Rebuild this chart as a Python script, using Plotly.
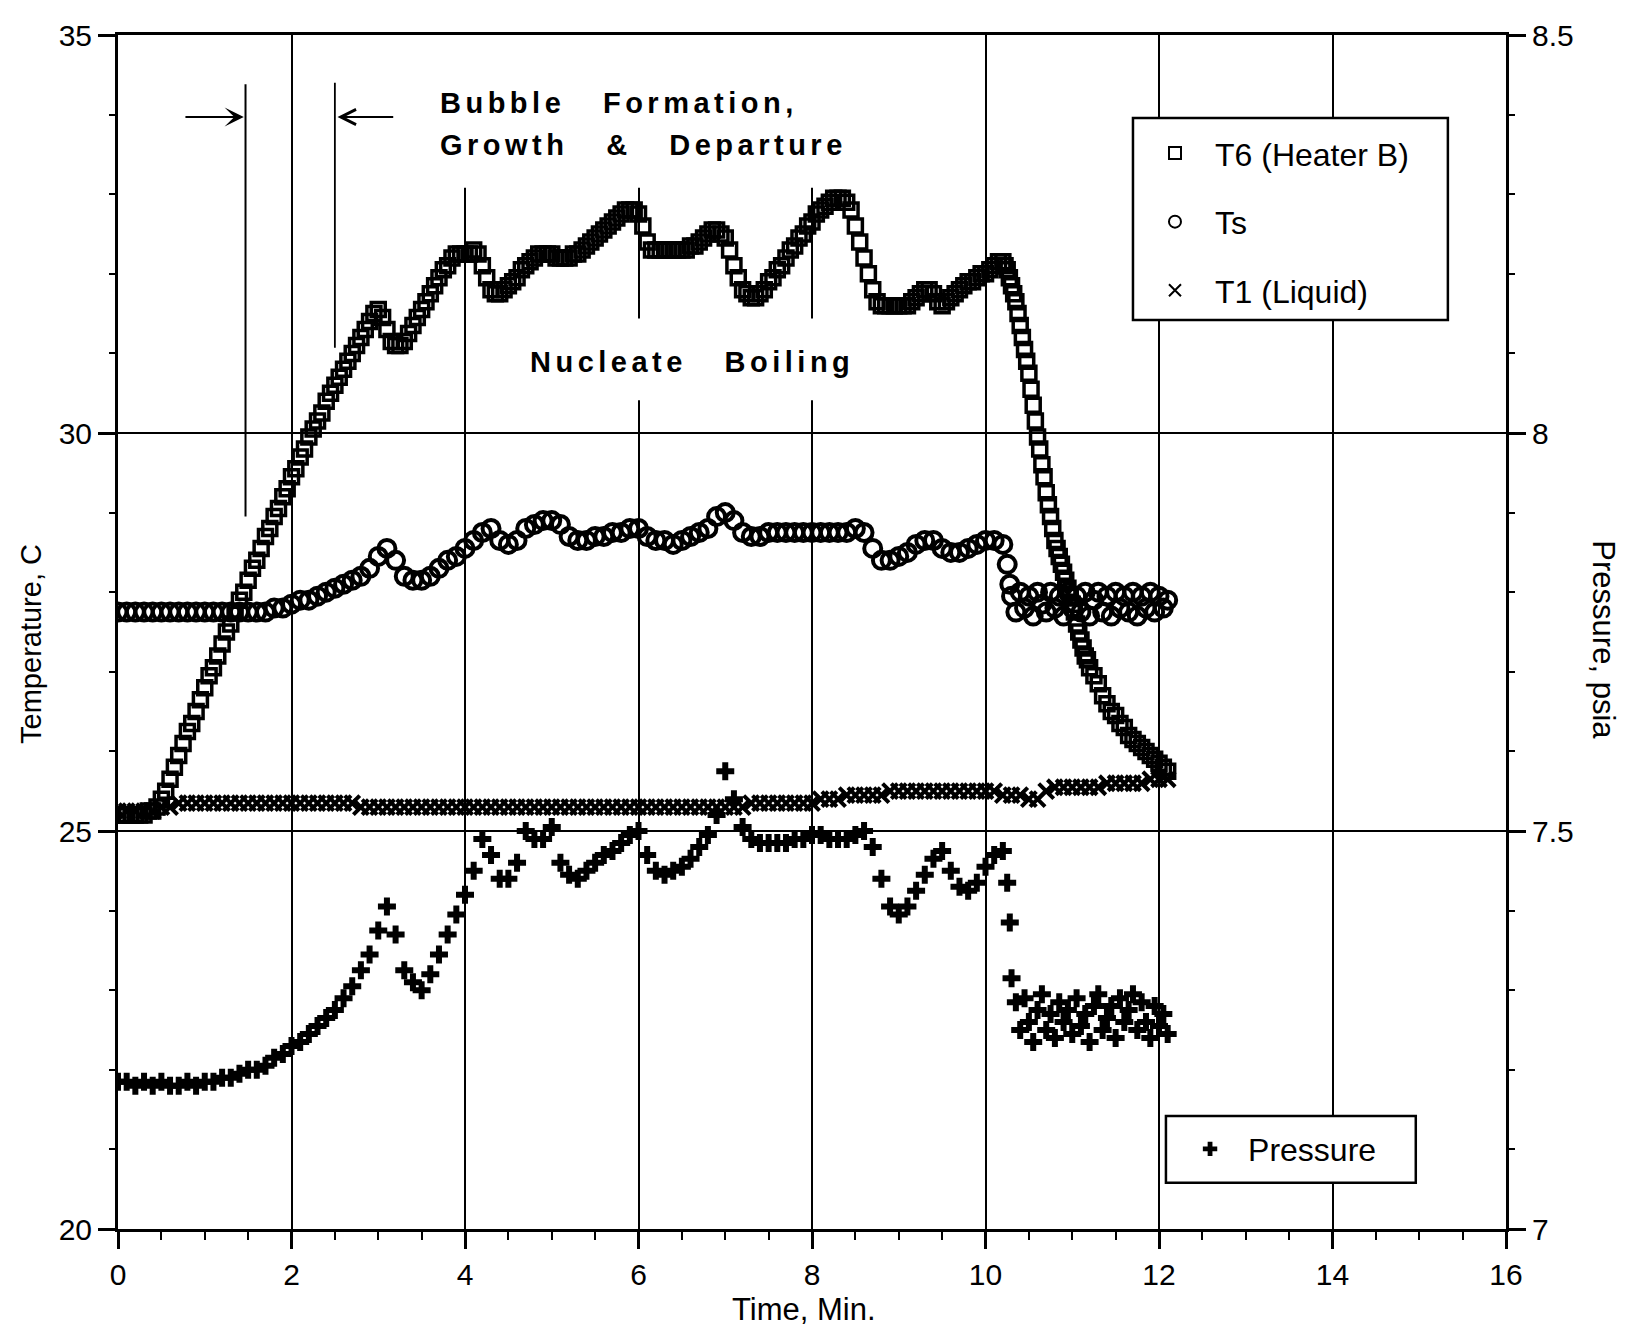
import plotly.graph_objects as go

# ---------------- data ----------------
# T6 (Heater B) – square markers
t6_time = [
    0.0, 0.05, 0.1, 0.15, 0.2, 0.25, 0.3, 0.35, 0.4, 0.45,
    0.5, 0.55, 0.6, 0.65, 0.7, 0.75, 0.8, 0.85, 0.9, 0.95,
    1.0, 1.05, 1.1, 1.15, 1.2, 1.25, 1.3, 1.35, 1.4, 1.45,
    1.5, 1.55, 1.6, 1.65, 1.7, 1.75, 1.8, 1.85, 1.9, 1.95,
    2.0, 2.05, 2.1, 2.15, 2.2, 2.25, 2.3, 2.35, 2.4, 2.45,
    2.5, 2.55, 2.6, 2.65, 2.7, 2.75, 2.8, 2.85, 2.9, 2.95,
    3.0, 3.05, 3.1, 3.15, 3.2, 3.25, 3.3, 3.35, 3.4, 3.45,
    3.5, 3.55, 3.6, 3.65, 3.7, 3.75, 3.8, 3.85, 3.9, 3.95,
    4.0, 4.05, 4.1, 4.15, 4.2, 4.25, 4.3, 4.35, 4.4, 4.45,
    4.5, 4.55, 4.6, 4.65, 4.7, 4.75, 4.8, 4.85, 4.9, 4.95,
    5.0, 5.05, 5.1, 5.15, 5.2, 5.25, 5.3, 5.35, 5.4, 5.45,
    5.5, 5.55, 5.6, 5.65, 5.7, 5.75, 5.8, 5.85, 5.9, 5.95,
    6.0, 6.05, 6.1, 6.15, 6.2, 6.25, 6.3, 6.35, 6.4, 6.45,
    6.5, 6.55, 6.6, 6.65, 6.7, 6.75, 6.8, 6.85, 6.9, 6.95,
    7.0, 7.05, 7.1, 7.15, 7.2, 7.25, 7.3, 7.35, 7.4, 7.45,
    7.5, 7.55, 7.6, 7.65, 7.7, 7.75, 7.8, 7.85, 7.9, 7.95,
    8.0, 8.05, 8.1, 8.15, 8.2, 8.25, 8.3, 8.35, 8.4, 8.45,
    8.5, 8.55, 8.6, 8.65, 8.7, 8.75, 8.8, 8.85, 8.9, 8.95,
    9.0, 9.05, 9.1, 9.15, 9.2, 9.25, 9.3, 9.35, 9.4, 9.45,
    9.5, 9.55, 9.6, 9.65, 9.7, 9.75, 9.8, 9.85, 9.9, 9.95,
    10.0, 10.05, 10.1, 10.15, 10.2,
    10.225, 10.25, 10.275, 10.3, 10.325, 10.35, 10.375, 10.4, 10.425, 10.45,
    10.475, 10.5, 10.525, 10.55, 10.575, 10.6, 10.625, 10.65, 10.675, 10.7,
    10.725, 10.75, 10.775, 10.8, 10.825, 10.85, 10.875, 10.9, 10.925, 10.95,
    10.975, 11.0, 11.025, 11.05, 11.075, 11.1, 11.125, 11.15, 11.175, 11.2,
    11.25, 11.3, 11.35, 11.4, 11.45, 11.5, 11.55, 11.6, 11.65, 11.7,
    11.75, 11.8, 11.85, 11.9, 11.95, 12.0, 12.05, 12.1,
]
t6_temp = [
    25.2, 25.2, 25.2, 25.2, 25.2, 25.2, 25.2, 25.25, 25.25, 25.3,
    25.4, 25.5, 25.65, 25.8, 25.95, 26.1, 26.25, 26.35, 26.5, 26.65,
    26.8, 26.95, 27.05, 27.2, 27.35, 27.5, 27.6, 27.75, 27.9, 28.0,
    28.15, 28.3, 28.4, 28.55, 28.7, 28.8, 28.95, 29.05, 29.2, 29.3,
    29.45, 29.55, 29.7, 29.8, 29.95, 30.05, 30.15, 30.25, 30.4, 30.5,
    30.6, 30.7, 30.8, 30.9, 31.0, 31.1, 31.2, 31.3, 31.4, 31.5,
    31.55, 31.45, 31.3, 31.15, 31.1, 31.1, 31.15, 31.25, 31.35, 31.45,
    31.55, 31.65, 31.75, 31.85, 31.95, 32.05, 32.1, 32.2, 32.25, 32.25,
    32.25, 32.25, 32.3, 32.25, 32.1, 31.95, 31.8, 31.75, 31.75, 31.8,
    31.85, 31.9, 31.95, 32.05, 32.1, 32.15, 32.2, 32.25, 32.25, 32.25,
    32.25, 32.2, 32.2, 32.2, 32.2, 32.25, 32.25, 32.3, 32.35, 32.4,
    32.45, 32.5, 32.55, 32.6, 32.65, 32.7, 32.75, 32.8, 32.8, 32.8,
    32.75, 32.6, 32.4, 32.3, 32.3, 32.3, 32.3, 32.3, 32.3, 32.3,
    32.3, 32.3, 32.35, 32.35, 32.4, 32.45, 32.5, 32.55, 32.55, 32.5,
    32.45, 32.3, 32.1, 31.95, 31.8, 31.75, 31.7, 31.7, 31.75, 31.8,
    31.9, 31.95, 32.05, 32.1, 32.2, 32.3, 32.35, 32.45, 32.5, 32.6,
    32.65, 32.75, 32.8, 32.85, 32.9, 32.95, 32.95, 32.95, 32.9, 32.8,
    32.6, 32.4, 32.2, 32.0, 31.8, 31.65, 31.6, 31.6, 31.6, 31.6,
    31.6, 31.6, 31.6, 31.65, 31.7, 31.75, 31.8, 31.8, 31.75, 31.65,
    31.6, 31.65, 31.7, 31.75, 31.8, 31.85, 31.9, 31.9, 31.95, 32.0,
    32.0, 32.05, 32.1, 32.15, 32.15,
    32.1, 32.05, 31.95, 31.85, 31.75, 31.65, 31.5, 31.35, 31.2, 31.05,
    30.9, 30.75, 30.55, 30.35, 30.15, 29.95, 29.8, 29.6, 29.45, 29.25,
    29.1, 28.95, 28.8, 28.65, 28.55, 28.45, 28.35, 28.25, 28.15, 28.05,
    27.95, 27.85, 27.75, 27.6, 27.5, 27.4, 27.3, 27.2, 27.15, 27.05,
    26.95, 26.85, 26.7, 26.6, 26.5, 26.45, 26.35, 26.3, 26.2, 26.15,
    26.1, 26.05, 26.0, 25.95, 25.9, 25.85, 25.8, 25.75,
]

# sampling grid 0.0 - 10.2 min (0.1 min)
grid_time = [
    0.0, 0.1, 0.2, 0.3, 0.4, 0.5, 0.6, 0.7, 0.8, 0.9,
    1.0, 1.1, 1.2, 1.3, 1.4, 1.5, 1.6, 1.7, 1.8, 1.9,
    2.0, 2.1, 2.2, 2.3, 2.4, 2.5, 2.6, 2.7, 2.8, 2.9,
    3.0, 3.1, 3.2, 3.3, 3.4, 3.5, 3.6, 3.7, 3.8, 3.9,
    4.0, 4.1, 4.2, 4.3, 4.4, 4.5, 4.6, 4.7, 4.8, 4.9,
    5.0, 5.1, 5.2, 5.3, 5.4, 5.5, 5.6, 5.7, 5.8, 5.9,
    6.0, 6.1, 6.2, 6.3, 6.4, 6.5, 6.6, 6.7, 6.8, 6.9,
    7.0, 7.1, 7.2, 7.3, 7.4, 7.5, 7.6, 7.7, 7.8, 7.9,
    8.0, 8.1, 8.2, 8.3, 8.4, 8.5, 8.6, 8.7, 8.8, 8.9,
    9.0, 9.1, 9.2, 9.3, 9.4, 9.5, 9.6, 9.7, 9.8, 9.9,
    10.0, 10.1, 10.2,
]
# after the heater switch-off (dense, scattered samples)
tail_time = [
    10.25, 10.28,
    10.3, 10.35, 10.4, 10.45, 10.5, 10.55, 10.6, 10.65, 10.7, 10.75,
    10.8, 10.85, 10.9, 10.95, 11.0, 11.05, 11.1, 11.15, 11.2, 11.25,
    11.3, 11.35, 11.4, 11.45, 11.5, 11.55, 11.6, 11.65, 11.7, 11.75,
    11.8, 11.85, 11.9, 11.95, 12.0, 12.05, 12.1,
]
late_time = [10.3, 10.4, 10.5, 10.6, 10.7, 10.8, 10.9, 11.0, 11.1, 11.2,
             11.3, 11.4, 11.5, 11.6, 11.7, 11.8, 11.9, 12.0, 12.1]

# Ts – circle markers
ts_time = grid_time + tail_time
ts_temp = [
    27.75, 27.75, 27.75, 27.75, 27.75, 27.75, 27.75, 27.75, 27.75, 27.75,
    27.75, 27.75, 27.75, 27.75, 27.75, 27.75, 27.75, 27.75, 27.8, 27.8,
    27.85, 27.9, 27.9, 27.95, 28.0, 28.05, 28.1, 28.15, 28.2, 28.3,
    28.45, 28.55, 28.4, 28.2, 28.15, 28.15, 28.2, 28.3, 28.4, 28.45,
    28.55, 28.65, 28.75, 28.8, 28.65, 28.6, 28.65, 28.8, 28.85, 28.9,
    28.9, 28.85, 28.7, 28.65, 28.65, 28.7, 28.7, 28.75, 28.75, 28.8,
    28.8, 28.7, 28.65, 28.65, 28.6, 28.65, 28.7, 28.75, 28.8, 28.95,
    29.0, 28.9, 28.75, 28.7, 28.7, 28.75, 28.75, 28.75, 28.75, 28.75,
    28.75, 28.75, 28.75, 28.75, 28.75, 28.8, 28.75, 28.55, 28.4, 28.4,
    28.45, 28.5, 28.6, 28.65, 28.65, 28.55, 28.5, 28.5, 28.55, 28.6,
    28.65, 28.65, 28.6,
    28.35, 28.1,
    27.95, 27.75, 28.0, 27.8, 27.95, 27.7, 28.0, 27.85, 27.75, 28.0,
    27.8, 27.95, 27.7, 28.0, 27.8, 27.95, 27.75, 28.0, 27.7, 27.9,
    28.0, 27.75, 27.95, 27.7, 28.0, 27.8, 27.95, 27.75, 28.0, 27.7,
    27.95, 27.8, 28.0, 27.75, 27.95, 27.8, 27.9,
]

# T1 (Liquid) – x markers
t1_time = grid_time + late_time
t1_temp = [
    25.25, 25.25, 25.25, 25.25, 25.25, 25.3, 25.3, 25.35, 25.35, 25.35,
    25.35, 25.35, 25.35, 25.35, 25.35, 25.35, 25.35, 25.35, 25.35, 25.35,
    25.35, 25.35, 25.35, 25.35, 25.35, 25.35, 25.35, 25.35, 25.3, 25.3,
    25.3, 25.3, 25.3, 25.3, 25.3, 25.3, 25.3, 25.3, 25.3, 25.3,
    25.3, 25.3, 25.3, 25.3, 25.3, 25.3, 25.3, 25.3, 25.3, 25.3,
    25.3, 25.3, 25.3, 25.3, 25.3, 25.3, 25.3, 25.3, 25.3, 25.3,
    25.3, 25.3, 25.3, 25.3, 25.3, 25.3, 25.3, 25.3, 25.3, 25.3,
    25.3, 25.3, 25.3, 25.35, 25.35, 25.35, 25.35, 25.35, 25.35, 25.35,
    25.35, 25.4, 25.4, 25.4, 25.45, 25.45, 25.45, 25.45, 25.45, 25.5,
    25.5, 25.5, 25.5, 25.5, 25.5, 25.5, 25.5, 25.5, 25.5, 25.5,
    25.5, 25.5, 25.45,
    25.45, 25.45, 25.4, 25.4, 25.5, 25.55, 25.55, 25.55, 25.55, 25.55,
    25.55, 25.6, 25.6, 25.6, 25.6, 25.6, 25.65, 25.65, 25.65,
]

# Pressure (psia, right axis) – plus markers
p_time = grid_time + tail_time
p_psia = [
    7.185, 7.185, 7.18, 7.185, 7.18, 7.185, 7.18, 7.18, 7.185, 7.18,
    7.185, 7.185, 7.19, 7.19, 7.195, 7.2, 7.2, 7.205, 7.215, 7.22,
    7.23, 7.235, 7.245, 7.255, 7.265, 7.275, 7.29, 7.305, 7.325, 7.345,
    7.375, 7.405, 7.37, 7.325, 7.31, 7.3, 7.32, 7.345, 7.37, 7.395,
    7.42, 7.45, 7.49, 7.47, 7.44, 7.44, 7.46, 7.5, 7.49, 7.49,
    7.505, 7.46, 7.445, 7.44, 7.45, 7.46, 7.47, 7.475, 7.485, 7.495,
    7.5, 7.47, 7.45, 7.445, 7.45, 7.455, 7.465, 7.48, 7.495, 7.52,
    7.575, 7.54, 7.505, 7.49, 7.485, 7.485, 7.485, 7.485, 7.49, 7.49,
    7.495, 7.495, 7.49, 7.49, 7.49, 7.495, 7.5, 7.48, 7.44, 7.405,
    7.395, 7.405, 7.425, 7.445, 7.465, 7.475, 7.45, 7.43, 7.425, 7.435,
    7.455, 7.47, 7.475,
    7.435, 7.385,
    7.315, 7.285, 7.25, 7.29, 7.26, 7.235, 7.275, 7.295, 7.25, 7.27,
    7.24, 7.285, 7.26, 7.275, 7.245, 7.29, 7.255, 7.27, 7.235, 7.28,
    7.295, 7.25, 7.265, 7.28, 7.24, 7.29, 7.26, 7.275, 7.295, 7.25,
    7.285, 7.26, 7.24, 7.28, 7.255, 7.27, 7.245,
]

# axis labels / texts
x_title = "Time, Min."
y_title = "Temperature, C"
y2_title = "Pressure, psia"

FONT = "Liberation Sans, Arial, Helvetica, sans-serif"
INK = "black"

fig = go.Figure()

fig.add_trace(go.Scatter(
    x=t6_time, y=t6_temp, mode="markers", name="T6 (Heater B)",
    legend="legend", legendgroup="g1",
    marker=dict(symbol="square-open", size=14, color=INK, line=dict(width=3.5, color=INK)),
))
fig.add_trace(go.Scatter(
    x=ts_time, y=ts_temp, mode="markers", name="Ts",
    legend="legend", legendgroup="g2",
    marker=dict(symbol="circle-open", size=17, color=INK, line=dict(width=4, color=INK)),
))
fig.add_trace(go.Scatter(
    x=t1_time, y=t1_temp, mode="markers", name="T1 (Liquid)",
    legend="legend", legendgroup="g3",
    marker=dict(symbol="x-thin", size=15, color=INK, line=dict(width=4, color=INK)),
))
fig.add_trace(go.Scatter(
    x=p_time, y=p_psia, mode="markers", name="Pressure", yaxis="y2",
    legend="legend2",
    marker=dict(symbol="cross", size=15, color=INK, line=dict(width=0)),
))

tickfont = dict(family=FONT, size=30, color=INK)
legfont = dict(family=FONT, size=32, color=INK)

fig.update_layout(
    width=1633, height=1335,
    margin=dict(l=118, r=127, t=35, b=106, autoexpand=False),
    paper_bgcolor="white", plot_bgcolor="white",
    font=dict(family=FONT, size=30, color=INK),
    showlegend=True,
    legend=dict(
        x=0.7327, y=0.924, xanchor="left", yanchor="top",
        bgcolor="rgba(0,0,0,0)", borderwidth=0, font=legfont,
        tracegroupgap=24, itemwidth=70, traceorder="grouped",
        itemsizing="constant",
    ),
    legend2=dict(
        x=0.7594, y=0.090, xanchor="left", yanchor="top",
        bgcolor="rgba(0,0,0,0)", borderwidth=0, font=legfont,
        itemwidth=66, itemsizing="constant",
    ),
    xaxis=dict(
        range=[0, 16], tick0=0, dtick=2, ticks="outside", ticklen=17,
        tickwidth=2.5, tickcolor=INK, tickfont=tickfont,
        showline=True, linewidth=3, linecolor=INK, mirror=True,
        showgrid=True, gridcolor=INK, gridwidth=2, zeroline=False,
        minor=dict(dtick=0.5, tick0=0, ticks="outside", ticklen=8,
                   tickwidth=2, tickcolor=INK, showgrid=False),
    ),
    yaxis=dict(
        range=[20, 35], tick0=20, dtick=5, ticks="outside", ticklen=17,
        tickwidth=2.5, tickcolor=INK, tickfont=tickfont,
        showline=True, linewidth=3, linecolor=INK,
        showgrid=True, gridcolor=INK, gridwidth=2, zeroline=False,
        minor=dict(dtick=1, tick0=20, ticks="outside", ticklen=6,
                   tickwidth=2, tickcolor=INK, showgrid=False),
    ),
    yaxis2=dict(
        overlaying="y", side="right", anchor="x",
        range=[7, 8.5], tick0=7, dtick=0.5, ticks="outside", ticklen=17,
        tickwidth=2.5, tickcolor=INK, tickfont=tickfont,
        showline=True, linewidth=3, linecolor=INK,
        showgrid=False, zeroline=False,
        minor=dict(dtick=0.1, tick0=7, ticks="outside", ticklen=6,
                   tickwidth=2, tickcolor=INK, showgrid=False),
    ),
)

shapes = [
    # white masks that interrupt the grid behind the labels
    dict(type="rect", xref="x", yref="y", x0=3.25, x1=8.78, y0=33.08, y1=35,
         fillcolor="white", line=dict(width=0), layer="between"),
    dict(type="rect", xref="x", yref="y", x0=4.46, x1=8.67, y0=30.41, y1=31.44,
         fillcolor="white", line=dict(width=0), layer="between"),
    # legend frames (cover the grid)
    dict(type="rect", xref="x", yref="y", x0=11.70, x1=15.33, y0=31.42, y1=33.957,
         fillcolor="white", line=dict(width=2.5, color=INK), layer="between"),
    dict(type="rect", xref="x", yref="y", x0=12.08, x1=14.96, y0=20.58, y1=21.42,
         fillcolor="white", line=dict(width=2.5, color=INK), layer="between"),
    # bubble interval markers
    dict(type="line", xref="x", yref="y", x0=1.47, x1=1.47, y0=28.95, y1=34.38,
         line=dict(width=2, color=INK), layer="above"),
    dict(type="line", xref="x", yref="y", x0=2.5, x1=2.5, y0=31.07, y1=34.4,
         line=dict(width=1.8, color=INK), layer="above"),
]
fig.update_layout(shapes=shapes)

ls = "letter-spacing:4.5px"
nb = "\u00a0\u00a0\u00a0"
bold = dict(family=FONT, size=29, color=INK, weight="bold")

annotations = [
    dict(x=3.69, y=34.15, xref="x", yref="y", xanchor="left", yanchor="middle",
         showarrow=False, font=bold,
         text=f'<span style="{ls}">Bubble{nb}Formation,</span>'),
    dict(x=3.69, y=33.62, xref="x", yref="y", xanchor="left", yanchor="middle",
         showarrow=False, font=bold,
         text=f'<span style="{ls}">Growth{nb}&amp;{nb}Departure</span>'),
    dict(x=4.73, y=30.89, xref="x", yref="y", xanchor="left", yanchor="middle",
         showarrow=False, font=bold,
         text=f'<span style="{ls}">Nucleate{nb}Boiling</span>'),
    # arrows
    dict(x=1.45, y=33.97, ax=0.76, ay=33.97, xref="x", yref="y", axref="x", ayref="y",
         text="", showarrow=True, arrowhead=3, arrowsize=1.6, arrowwidth=2, arrowcolor=INK),
    dict(x=2.53, y=33.97, ax=3.19, ay=33.97, xref="x", yref="y", axref="x", ayref="y",
         text="", showarrow=True, arrowhead=5, arrowsize=1.5, arrowwidth=2, arrowcolor=INK),
    # axis titles
    dict(x=-0.0627, y=0.49, xref="paper", yref="paper", text=y_title, textangle=-90,
         showarrow=False, font=dict(family=FONT, size=29, color=INK),
         xanchor="center", yanchor="middle"),
    dict(x=1.0706, y=0.493, xref="paper", yref="paper", text=y2_title, textangle=90,
         showarrow=False, font=dict(family=FONT, size=31, color=INK),
         xanchor="center", yanchor="middle"),
    dict(x=0.494, y=-0.0678, xref="paper", yref="paper", text=x_title,
         showarrow=False, font=dict(family=FONT, size=31, color=INK),
         xanchor="center", yanchor="middle"),
]
fig.update_layout(annotations=annotations)

fig.write_html("out.html")
